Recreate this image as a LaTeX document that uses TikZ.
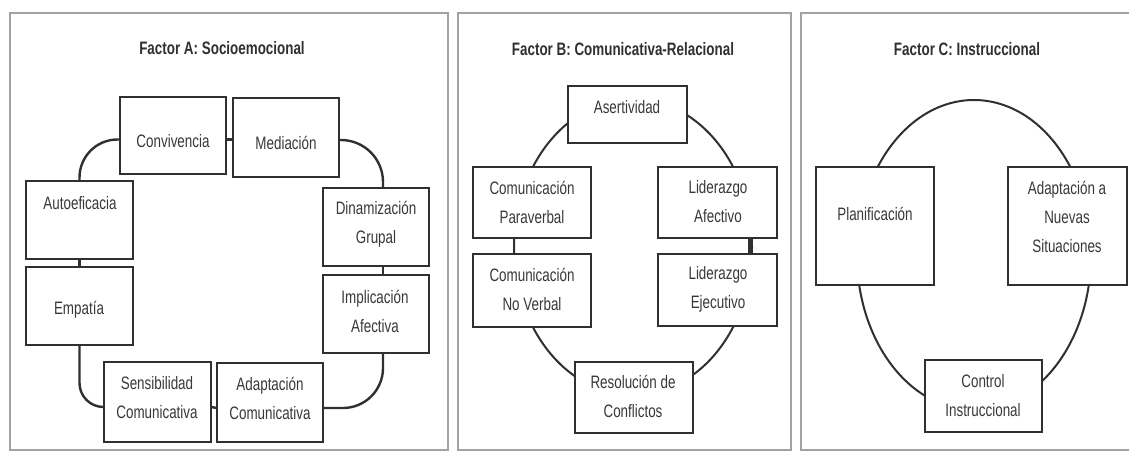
\documentclass[tikz,border=0pt]{standalone}
\usepackage{fontspec}
\setmainfont{Liberation Sans}[FakeStretch=0.745]
\definecolor{framegray}{HTML}{A2A2A2}
\definecolor{boxline}{HTML}{303030}
\definecolor{txtgray}{HTML}{383838}
\begin{document}
\begin{tikzpicture}[x=1pt,y=-1pt,
  panel/.style={draw=framegray,line width=2pt},
  box/.style={draw=boxline,line width=2.4pt,fill=white,inner sep=0pt,outer sep=0pt},
  link/.style={draw=boxline,line width=2.4pt},
  ring/.style={draw=boxline,line width=2pt},
  lbl/.style={text=txtgray,font=\fontsize{18}{29}\selectfont,align=center,inner sep=0pt},
  ttl/.style={text=boxline,font=\fontsize{18}{22}\selectfont\bfseries,inner sep=0pt}]
\useasboundingbox (0,0) rectangle (1129,458);
\fill[white] (0,0) rectangle (1129,458);

% panel frames
\draw[panel] (10,13) rectangle (448,450);
\draw[panel] (458,13) rectangle (791,450);
\draw[panel] (1131,13) -- (801,13) -- (801,450) -- (1131,450);

% ---------------- Factor A ----------------
\node[ttl] (ta) at (222,48) {Factor A: Socioemocional};
\node[box,minimum width=106,minimum height=77] (conv)  at (173,135.5) {};
\node[box,minimum width=106,minimum height=79] (med)   at (286,137.5) {};
\node[box,minimum width=107,minimum height=78] (auto)  at (79.5,220) {};
\node[box,minimum width=107,minimum height=78] (emp)   at (79.5,306) {};
\node[box,minimum width=106,minimum height=78] (dinam) at (376,227) {};
\node[box,minimum width=106,minimum height=78] (impl)  at (376,314) {};
\node[box,minimum width=107,minimum height=80] (sens)  at (157.5,402) {};
\node[box,minimum width=106,minimum height=79] (adapt) at (270,402.5) {};

% closed chain of links around the eight boxes
\draw[link] ([yshift=-4]conv.east) -- ([yshift=-2]med.west);
\draw[link,rounded corners=38] ([yshift=-4]conv.west) -| (auto.north);
\draw[link,rounded corners=42] ([yshift=-2.5]med.east) -| ([xshift=7]dinam.north);
\draw[link] (auto.south) -- (emp.north);
\draw[link] ([xshift=7]dinam.south) -- ([xshift=7]impl.north);
\draw[link,rounded corners=24] (emp.south) |- ([yshift=-5]sens.west);
\draw[link,rounded corners=40] ([xshift=7]impl.south) |- ([yshift=-5.5]adapt.east);
\draw[link] ([yshift=-5]sens.east) -- ([yshift=-5.5]adapt.west);

\node[lbl] (tconv)  at (173,141) {Convivencia};
\node[lbl] (tmed)   at (286,143) {Mediación};
\node[lbl] (tauto)  at (80,203) {Autoeficacia};
\node[lbl] (temp)   at (79,310) {Empatía};
\node[lbl] (tdinam) at (376,224) {Dinamización\\Grupal};
\node[lbl] (timpl)  at (375,311) {Implicación\\Afectiva};
\node[lbl] (tsens)  at (157,398) {Sensibilidad\\Comunicativa};
\node[lbl] (tadapt) at (270,398) {Adaptación\\Comunicativa};

% ---------------- Factor B ----------------
\node[ttl] (tb) at (623,49) {Factor B: Comunicativa-Relacional};
\draw[ring] (633,247) ellipse [x radius=119pt, y radius=148pt];
\node[box,minimum width=119,minimum height=57] (aser)  at (627.5,114.5) {};
\node[box,minimum width=118,minimum height=71] (para)  at (532,202.5) {};
\node[box,minimum width=118,minimum height=73] (nover) at (532,290.5) {};
\node[box,minimum width=119,minimum height=71] (lafe)  at (717.5,202.5) {};
\node[box,minimum width=119,minimum height=72] (lejec) at (717.5,290) {};
\node[box,minimum width=118,minimum height=71] (reso)  at (634,397.5) {};
\draw[link] ([xshift=-18]para.south) -- ([xshift=-18]nover.north);
\draw[link] ([xshift=32]lafe.south) -- ([xshift=32]lejec.north);

\node[lbl] (taser)  at (627,107) {Asertividad};
\node[lbl] (tpara)  at (532,202) {Comunicación\\Paraverbal};
\node[lbl] (tnover) at (532,289) {Comunicación\\No Verbal};
\node[lbl] (tlafe)  at (718,202) {Liderazgo\\Afectivo};
\node[lbl] (tlejec) at (718,289) {Liderazgo\\Ejecutivo};
\node[lbl] (treso)  at (633,396) {Resolución de\\Conflictos};

% ---------------- Factor C ----------------
\node[ttl] (tc) at (967,49) {Factor C: Instruccional};
\draw[ring] (974,255) ellipse [x radius=117pt, y radius=155pt];
\node[box,minimum width=118,minimum height=118] (plan) at (875,226) {};
\node[box,minimum width=119,minimum height=118] (nuev) at (1067.5,226) {};
\node[box,minimum width=117,minimum height=72]  (ctrl) at (983.5,396) {};

\node[lbl] (tplan) at (875,214) {Planificación};
\node[lbl] (tnuev) at (1067,217) {Adaptación a\\Nuevas\\Situaciones};
\node[lbl] (tctrl) at (983,396) {Control\\Instruccional};
\end{tikzpicture}
\end{document}
